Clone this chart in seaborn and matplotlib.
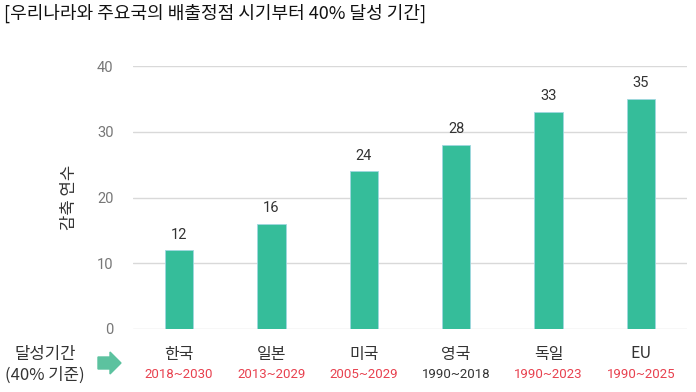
import matplotlib
matplotlib.use('Agg')
import matplotlib.pyplot as plt
import seaborn as sns
import pandas as pd
from matplotlib.patches import FancyArrow

countries = ['한국', '일본', '미국', '영국', '독일', 'EU']
periods = ['2018~2030', '2013~2029', '2005~2029', '1990~2018', '1990~2023', '1990~2025']
years = [12, 16, 24, 28, 33, 35]
period_colors = ['#e8414f', '#e8414f', '#e8414f', '#333333', '#e8414f', '#e8414f']
yticks = [0, 10, 20, 30, 40]

df = pd.DataFrame({'country': countries, 'years': years})

sns.set_style('white')
plt.rcParams['font.family'] = ['Noto Sans CJK KR', 'DejaVu Sans']
num_font = ['Roboto', 'Noto Sans CJK KR']

fig = plt.figure(figsize=(6.96, 3.92), dpi=100)
ax = fig.add_axes([133 / 696, 1 - 329 / 392, 554 / 696, 263 / 392])

sns.barplot(data=df, x='country', y='years', ax=ax, color='#35bd9a',
            width=0.31, saturation=1, edgecolor='#9fd8e0', linewidth=0.6)

ax.set_ylim(0, 40)
ax.set_xlim(-0.5, 5.5)
ax.set_yticks(yticks)
ax.yaxis.grid(True, color='#d9d9d9', linewidth=1)
ax.set_axisbelow(True)
for s in ax.spines.values():
    s.set_visible(False)
ax.tick_params(axis='y', length=0, pad=14, labelsize=10.5, labelcolor='#777777')
for lbl in ax.get_yticklabels():
    lbl.set_family(num_font)
ax.set_xticks([])
ax.set_xlabel('')
ax.set_ylabel('감축 연수', fontsize=12, color='#333333', labelpad=14)

for i, v in enumerate(years):
    ax.text(i, v + 1.3, str(v), ha='center', va='bottom', fontsize=10.5,
            color='#333333', family=num_font)

# category names and periods under the axis
for i, (c, p, pc) in enumerate(zip(countries, periods, period_colors)):
    xf = (133 + (i + 0.5) * 554 / 6) / 696
    fig.text(xf, 1 - 354 / 392, c, ha='center', va='center', fontsize=11.5, color='#333333')
    fig.text(xf, 1 - 374 / 392, p, ha='center', va='center', fontsize=9.5, color=pc,
             family=num_font)

fig.text(45 / 696, 1 - 354 / 392, '달성기간', ha='center', va='center', fontsize=12, color='#333333')
fig.text(45 / 696, 1 - 375 / 392, '(40% 기준)', ha='center', va='center', fontsize=12, color='#333333')

arrow = FancyArrow(98 / 696, 1 - 363 / 392, 12 / 696, 0, width=12 / 392,
                   head_width=22 / 392, head_length=11 / 696, length_includes_head=False,
                   color='#5cc29f', transform=fig.transFigure)
fig.patches.append(arrow)

fig.text(4 / 696, 1 - 13 / 392, '[우리나라와 주요국의 배출정점 시기부터 40% 달성 기간]',
         ha='left', va='center', fontsize=13, color='#111111')

fig.savefig('out.png', dpi=100)
